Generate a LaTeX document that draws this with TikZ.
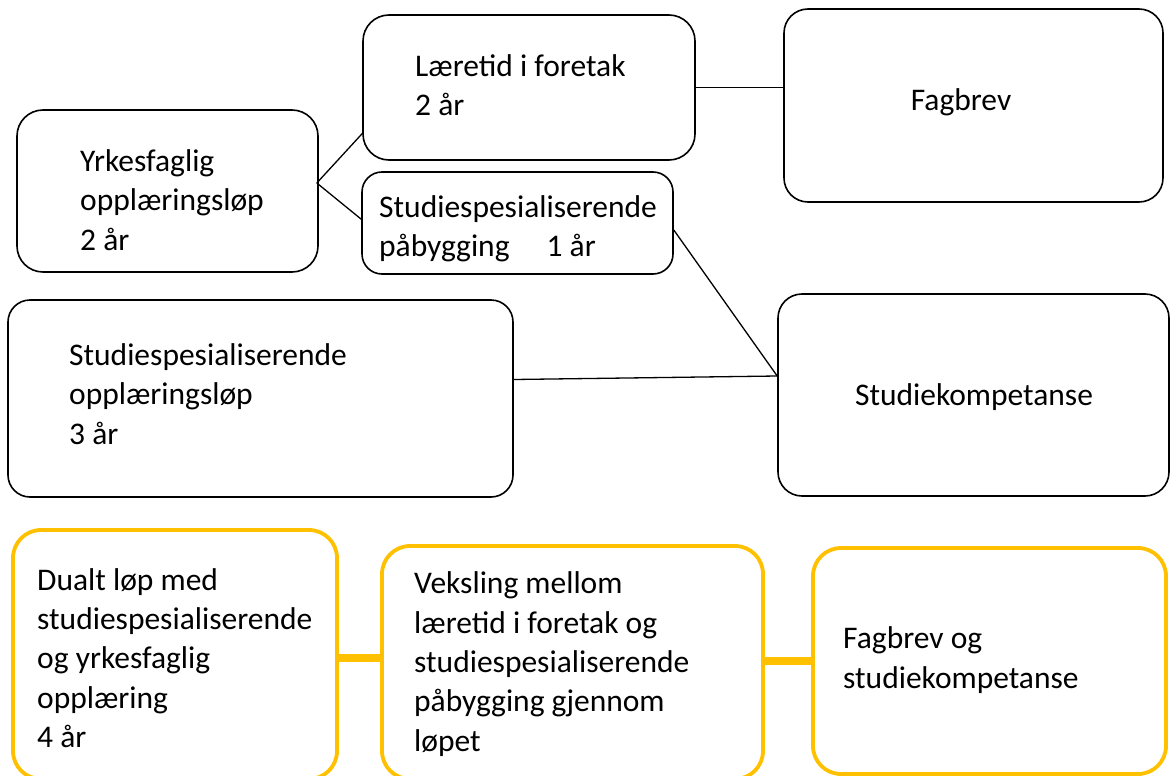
\documentclass[tikz,border=0pt]{standalone}
\usepackage{fontspec}
\setmainfont{Carlito}
\usetikzlibrary{fit,calc}
\definecolor{gold}{HTML}{FFC000}
\begin{document}
\begin{tikzpicture}[x=1pt,y=-1pt,
  box/.style={draw=black, line width=1.6pt, rounded corners=26pt, inner sep=0pt},
  ybox/.style={draw=gold, line width=3.8pt, rounded corners=28pt, inner sep=0pt},
  txt/.style={inner sep=0pt, align=left, anchor=west, font=\fontsize{31.5}{39.3}\selectfont, text=black},
  link/.style={draw=black, line width=1.3pt},
  ylink/.style={draw=gold, line width=8pt}]
\useasboundingbox (0,0) rectangle (1170,776);
% black boxes
\node[box, fit={(17,110) (318,272)}] (yrk) {};
\node[box, fit={(363,15) (695,160)}] (laer) {};
\node[box, rounded corners=20pt, fit={(362,172) (673,274)}] (pab) {};
\node[box, rounded corners=24pt, fit={(784,9) (1163,202)}] (fag) {};
\node[box, rounded corners=22pt, fit={(8,300) (513,497)}] (opp) {};
\node[box, rounded corners=24pt, fit={(778,294) (1169,496)}] (stud) {};
% yellow boxes
\node[ybox, fit={(13,530) (337,779)}] (d1) {};
\node[ybox, fit={(382,546) (763,779)}] (d2) {};
\node[ybox, fit={(813,548) (1166,774)}] (d3) {};
% texts
\node[txt] (yrkT) at (80,200) {Yrkesfaglig\\opplæringsløp\\2 år};
\node[txt] (laerT) at (415,85) {Læretid i foretak\\2 år};
\node[txt] (pabT) at (379,229) {Studiespesialiserende\\påbygging\hspace{37pt}1 år};
\node[txt, anchor=center] (fagT) at (961,102) {Fagbrev};
\node[txt, anchor=center] (studT) at (974,397) {Studiekompetanse};
\node[txt] (oppT) at (69,394) {Studiespesialiserende\\opplæringsløp\\3 år};
\node[txt] (d1T) at (37,658) {Dualt løp med\\studiespesialiserende\\og yrkesfaglig\\opplæring\\4 år};
\node[txt] (d2T) at (414,664) {Veksling mellom\\læretid i foretak og\\studiespesialiserende\\påbygging gjennom\\løpet};
\node[txt] (d3T) at (843,660) {Fagbrev og\\studiekompetanse};
% connectors
\draw[link] ($(yrk.east)+(-2,-8)$) -- ($(laer.west)+(1,45)$);
\draw[link] ($(yrk.east)+(-2,-8)$) -- ($(pab.west)+(1,-3)$);
\draw[link] (laer.east) -- (fag.west |- laer.east);
\draw[link] ($(pab.east)+(0,7)$) -- ($(stud.west)+(0,-19)$);
\draw[link] ($(opp.east)+(0,-19)$) -- ($(stud.west)+(0,-19)$);
\draw[ylink] ($(d1.east)+(0,3)$) coordinate (c1) -- (c1 -| d2.west);
\draw[ylink] ($(d2.east)+(0,-2)$) coordinate (c2) -- (c2 -| d3.west);
\end{tikzpicture}
\end{document}
